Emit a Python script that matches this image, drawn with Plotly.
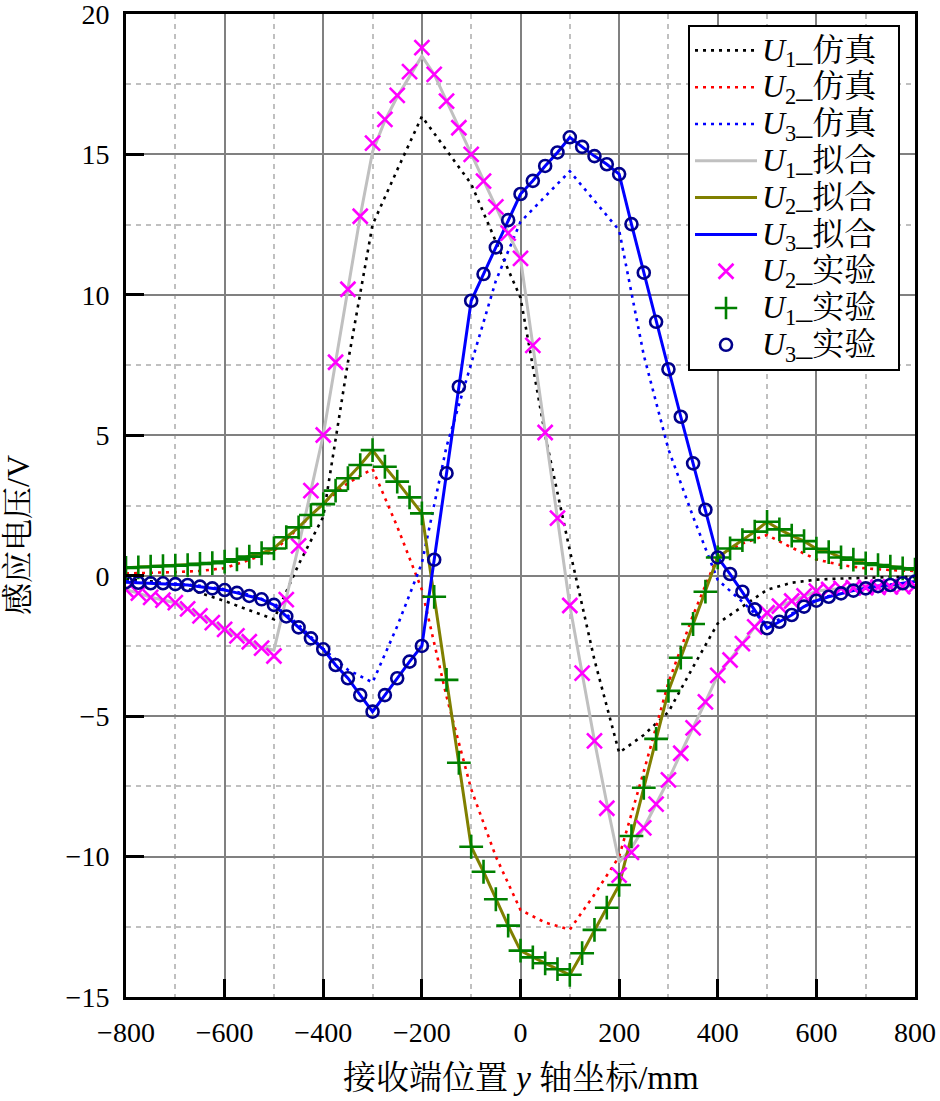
"""
Induced voltage vs receiver position: simulation, fitted curves and measurements.
"""

import plotly.graph_objects as go

# receiver position along y (mm): measurements every 25 mm, simulation every 50 mm
pos_exp = list(range(-800, 801, 25))
pos_sim = list(range(-800, 801, 50))

# simulation curves (50 mm grid)
u1_sim = [-0.12, -0.2, -0.32, -0.6, -0.9, -1.23, -1.55, 0.4, 2.1, 7.6, 12.5,
          14.45, 16.35, 15.15, 13.95, 11.9, 9.9, 5.0, 0.9, -3.0, -6.3, -5.67,
          -4.85, -3.25, -1.7, -1.1, -0.5, -0.25, -0.14, -0.1, -0.07, -0.05, -0.04]
u2_sim = [0.08, 0.1, 0.13, 0.17, 0.27, 0.56, 0.88, 1.7, 2.58, 3.3, 3.8,
          1.75, -0.5, -4.3, -7.6, -10.0, -11.9, -12.35, -12.6, -11.35, -10.0, -6.97,
          -3.8, -1.4, 0.7, 1.15, 1.45, 1.0, 0.58, 0.38, 0.26, 0.2, 0.17]
u3_sim = [-0.2, -0.24, -0.28, -0.36, -0.48, -0.68, -0.98, -1.75, -2.6, -3.35, -3.8,
          -1.8, 0.45, 4.6, 7.55, 10.5, 12.6, 13.5, 14.4, 13.35, 12.3, 7.85,
          4.5, 2.1, -0.15, -0.93, -1.75, -1.35, -0.85, -0.6, -0.43, -0.32, -0.2]

# measured points (25 mm grid)
u2_exp = [-0.5, -0.62, -0.77, -0.87, -0.96, -1.18, -1.43, -1.67, -1.91, -2.14, -2.35,
          -2.58, -2.86, -0.85, 1.06, 3.03, 5.01, 7.6, 10.2, 12.8, 15.4, 16.25,
          17.1, 17.95, 18.8, 17.85, 16.9, 15.95, 15.0, 14.05, 13.13, 12.2, 11.3,
          8.2, 5.1, 2.05, -1.06, -3.47, -5.88, -8.28, -10.66, -9.85, -8.98, -8.13,
          -7.27, -6.32, -5.42, -4.49, -3.55, -3.0, -2.42, -1.82, -1.32, -1.08, -0.9,
          -0.72, -0.55, -0.49, -0.45, -0.43, -0.42, -0.41, -0.4, -0.39, -0.37]
u1_exp = [0.28, 0.3, 0.32, 0.34, 0.36, 0.38, 0.42, 0.45, 0.5, 0.58, 0.68,
          0.8, 0.97, 1.37, 1.72, 2.16, 2.55, 3.03, 3.47, 3.94, 4.47, 3.88,
          3.35, 2.79, 2.22, -0.75, -3.71, -6.66, -9.65, -10.54, -11.52, -12.46, -13.35,
          -13.59, -13.8, -14.01, -14.21, -13.44, -12.61, -11.82, -11.01, -9.27, -7.55, -5.81,
          -4.1, -2.92, -1.72, -0.57, 0.65, 0.97, 1.27, 1.57, 1.92, 1.65, 1.43,
          1.23, 0.96, 0.84, 0.65, 0.57, 0.44, 0.38, 0.32, 0.26, 0.22]
u3_exp = [-0.23, -0.25, -0.27, -0.27, -0.3, -0.33, -0.39, -0.45, -0.51, -0.61, -0.72,
          -0.84, -1.04, -1.45, -1.84, -2.23, -2.62, -3.18, -3.65, -4.25, -4.84, -4.25,
          -3.65, -3.06, -2.5, 0.57, 3.65, 6.73, 9.79, 10.74, 11.69, 12.66, 13.59,
          14.06, 14.59, 15.07, 15.61, 15.27, 14.94, 14.65, 14.3, 12.52, 10.79, 9.04,
          7.35, 5.66, 4.0, 2.35, 0.65, 0.06, -0.57, -1.2, -1.87, -1.64, -1.4,
          -1.1, -0.89, -0.75, -0.63, -0.53, -0.45, -0.37, -0.33, -0.27, -0.21]

# fitted curves (25 mm grid)
u1_fit = [-0.5, -0.62, -0.77, -0.87, -0.96, -1.18, -1.43, -1.67, -1.91, -2.14, -2.35,
          -2.55, -2.65, -0.85, 1.06, 3.03, 5.01, 7.6, 10.2, 12.8, 15.1, 16.2,
          17.05, 17.8, 18.5, 17.85, 16.9, 15.95, 15.0, 14.05, 13.13, 12.2, 11.3,
          8.2, 5.1, 2.05, -1.06, -3.47, -5.88, -8.1, -10.2, -9.7, -8.98, -8.13,
          -7.27, -6.32, -5.42, -4.49, -3.55, -3.0, -2.42, -1.82, -1.32, -1.08, -0.9,
          -0.72, -0.55, -0.49, -0.45, -0.43, -0.42, -0.41, -0.4, -0.39, -0.37]
u2_fit = u1_exp
u3_fit = u3_exp

FONT = "Liberation Serif, Times New Roman, Noto Serif CJK SC, Noto Sans CJK SC, serif"
DOT = "3px,5px"


def sim_trace(y, color, name):
    return go.Scatter(x=pos_sim, y=y, name=name, mode="lines",
                      line=dict(color=color, width=2.6, dash=DOT))


def fit_trace(y, color, name):
    return go.Scatter(x=pos_exp, y=y, name=name, mode="lines",
                      line=dict(color=color, width=3))


def exp_trace(y, color, symbol, size, name):
    return go.Scatter(x=pos_exp, y=y, name=name, mode="markers",
                      marker=dict(symbol=symbol, size=size, color=color,
                                  line=dict(color=color, width=2.6)))


def label(idx, kind):
    # legend rows are spaced by the base legend font, glyphs drawn a bit larger;
    # trailing no-break spaces leave room before the legend border
    return (f'<span style="font-size:32px"><i>U</i><sub>{idx}</sub>_{kind}'
            '\u00a0\u00a0</span>')


fig = go.Figure()
fig.add_trace(sim_trace(u1_sim, "black", label(1, "仿真")))
fig.add_trace(sim_trace(u2_sim, "#FF0000", label(2, "仿真")))
fig.add_trace(sim_trace(u3_sim, "#0000FF", label(3, "仿真")))
fig.add_trace(fit_trace(u1_fit, "#C0C0C0", label(1, "拟合")))
fig.add_trace(fit_trace(u2_fit, "#808000", label(2, "拟合")))
fig.add_trace(fit_trace(u3_fit, "#0000FF", label(3, "拟合")))
fig.add_trace(exp_trace(u2_exp, "#FF00FF", "x-thin", 15, label(2, "实验")))
fig.add_trace(exp_trace(u1_exp, "#008000", "cross-thin", 17, label(1, "实验")))
fig.add_trace(exp_trace(u3_exp, "#00008B", "circle-open", 12, label(3, "实验")))

axis_common = dict(
    showline=True, linecolor="black", linewidth=3, mirror=True,
    ticks="inside", ticklen=18, tickwidth=3, tickcolor="black",
    showgrid=True, gridcolor="#808080", gridwidth=2,
    zeroline=False, automargin=False, ticklabeloverflow="allow",
    ticklabelstandoff=8,
    tickfont=dict(family=FONT, size=28, color="black"),
)

fig.update_xaxes(
    range=[-800, 800], dtick=200, tick0=-800,
    minor=dict(dtick=100, showgrid=True, gridcolor="#C0C0C0", griddash="5px,5px", gridwidth=1.5),
    **axis_common,
)
fig.update_yaxes(
    range=[-15, 20], dtick=5, tick0=-15,
    minor=dict(dtick=2.5, showgrid=True, gridcolor="#C0C0C0", griddash="5px,5px", gridwidth=1.5),
    **axis_common,
)

# axis titles placed as annotations to sit where the original has them
fig.add_annotation(text="接收端位置 <i>y</i> 轴坐标/mm", xref="paper", yref="paper",
                   x=0.5, y=0, yshift=-81, xanchor="center", yanchor="middle",
                   showarrow=False, font=dict(family=FONT, size=33, color="black"))
fig.add_annotation(text="感应电压/V", xref="paper", yref="paper", textangle=-90,
                   x=0, xshift=-108, y=0.47, xanchor="center", yanchor="middle",
                   showarrow=False, font=dict(family=FONT, size=32, color="black"))

fig.update_layout(
    width=940, height=1101,
    margin=dict(l=126, r=25, t=14, b=104),
    paper_bgcolor="white", plot_bgcolor="white",
    font=dict(family=FONT, size=28, color="black"),
    showlegend=True,
    legend=dict(
        x=0.981, y=0.9888, xanchor="right", yanchor="top",
        bgcolor="white", bordercolor="black", borderwidth=2,
        font=dict(family=FONT, size=26, color="black"),
        itemwidth=62, tracegroupgap=0,
    ),
)

fig.write_html("out.html", config={"displayModeBar": False},
               post_script="document.body.style.margin = '0';")
